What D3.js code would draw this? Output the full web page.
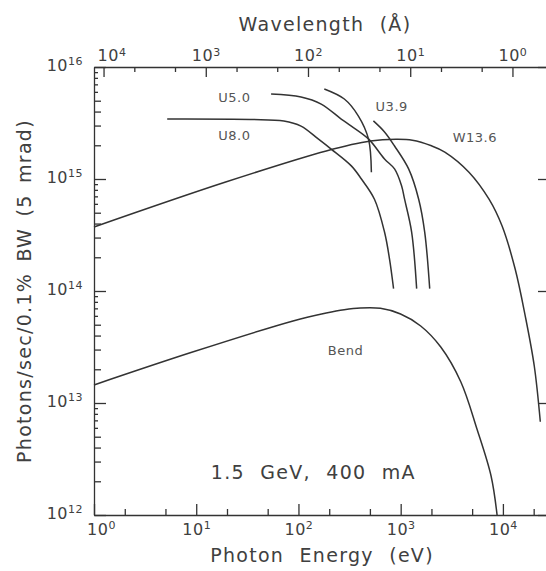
<!DOCTYPE html>
<html><head><meta charset="utf-8">
<script src="https://cdn.jsdelivr.net/npm/d3@7"></script>
<style>
body{margin:0;background:#fff}
svg{display:block}
text{font-family:"DejaVu Sans",sans-serif;fill:#404040}
.axis path,.axis line{stroke:#333;stroke-width:1.3px}
</style>
</head><body>
<svg id="c" width="546" height="571"></svg>
<script>
// ---------- data ----------
const HC = 12398; // eV·Å
const energyDomain = [1, 27000];
const fluxDomain = [1e12, 1e16];
const energyMajor = [1, 10, 100, 1000, 10000];
const energyMinor = [2, 5, 20, 50, 200, 500, 2000, 5000, 20000];
const lambdaMajor = [10000, 1000, 100, 10, 1];
const lambdaMinor = [5000, 2000, 500, 200, 50, 20, 5, 2];
const fluxMajor = [1e12, 1e13, 1e14, 1e15, 1e16];

const bendE = [1, 9.2, 88.5, 187, 280, 403, 634, 998, 1570, 2467, 3880, 5575, 7660, 8770];
const bendF = [1.45e13, 2.85e13, 5.4e13, 6.35e13, 6.8e13, 7.05e13, 7.0e13, 6.23e13, 4.87e13, 3.16e13, 1.54e13, 5.86e12, 2.23e12, 1.0e12];

const w136E = [1, 19.4, 187, 506, 900, 1300, 2000, 2703, 4656, 7317, 9820, 13180, 16530, 20270, 23230];
const w136F = [3.73e14, 9.4e14, 1.78e15, 2.18e15, 2.26e15, 2.22e15, 1.98e15, 1.74e15, 1.15e15, 6.6e14, 3.8e14, 1.57e14, 6e13, 2.14e13, 6.8e12];

const u80E = [5.2, 34, 72, 106, 156, 209, 329, 413, 554, 695, 778, 852];
const u80F = [3.43e15, 3.4e15, 3.3e15, 2.97e15, 2.28e15, 1.85e15, 1.31e15, 1.0e15, 6.6e14, 3.36e14, 1.93e14, 1.05e14];

const u50E = [54, 106, 167, 262, 329, 484, 695, 871, 1020, 1092, 1280, 1433];
const u50F = [5.74e15, 5.4e15, 4.67e15, 3.43e15, 2.97e15, 2.28e15, 1.51e15, 1.23e15, 8.7e14, 6.6e14, 3.36e14, 1.05e14];

const u39aE = [179, 281, 386, 484, 517];
const u39aF = [6.37e15, 5.18e15, 3.65e15, 2.28e15, 1.15e15];
const u39bE = [541, 695, 871, 1196, 1500, 1718, 1923];
const u39bF = [3.3e15, 2.63e15, 1.97e15, 1.23e15, 6.6e14, 3.36e14, 1.05e14];

const labelText = ["U5.0", "U8.0", "U3.9", "W13.6", "Bend"];
const labelE = [23.6, 23.6, 817, 5310, 289];
const labelF = [5.3e15, 2.47e15, 4.4e15, 2.37e15, 2.97e13];
const noteText = "1.5 GeV, 400 mA";
const noteE = 140, noteF = 2.42e12;

// ---------- layout ----------
const L = 94, R = 547, T = 67, B = 515;
const svg = d3.select("#c");
const x = d3.scaleLog().domain(energyDomain).range([L, R]);
const y = d3.scaleLog().domain(fluxDomain).range([B, T]);
const xl = d3.scaleLog().domain([HC / energyDomain[0], HC / energyDomain[1]]).range([L, R]);

function supLabel(sel, baseSize, supSize) {
  sel.each(function(d) {
    const t = d3.select(this);
    const e = Math.round(Math.log10(d));
    t.text(null);
    t.append("tspan").text("10").style("font-size", baseSize + "px");
    t.append("tspan").text(e).attr("dy", "-0.5em").style("font-size", supSize + "px");
  });
}

// bottom axis
const gB = svg.append("g").attr("class", "axis").attr("transform", `translate(0,${B})`);
gB.call(d3.axisBottom(x).tickValues(energyMajor).tickSizeInner(-11).tickSizeOuter(0).tickPadding(9));
gB.selectAll(".tick text").call(supLabel, 16, 11).attr("dy", "1.05em").attr("dx", (d, i) => i === 0 ? 7 : 0).style("letter-spacing", "0.5px");
svg.append("g").attr("class", "axis").attr("transform", `translate(0,${B})`)
  .call(d3.axisBottom(x).tickValues(energyMinor).tickSizeInner(-6).tickSizeOuter(0).tickFormat(""))
  .select(".domain").remove();

// top axis (wavelength)
const gT = svg.append("g").attr("class", "axis").attr("transform", `translate(0,${T})`);
gT.call(d3.axisTop(xl).tickValues(lambdaMajor).tickSizeInner(-10).tickSizeOuter(0).tickPadding(6));
gT.selectAll(".tick text").call(supLabel, 16, 11).attr("dx", (d, i) => i === 0 ? 8 : 0).style("letter-spacing", "0.5px");
svg.append("g").attr("class", "axis").attr("transform", `translate(0,${T})`)
  .call(d3.axisTop(xl).tickValues(lambdaMinor).tickSizeInner(-5).tickSizeOuter(0).tickFormat(""))
  .select(".domain").remove();

// left axis
const mant = v => Math.round(v / Math.pow(10, Math.floor(Math.log10(v) + 1e-9)));
const fluxMinorA = y.ticks().filter(v => mant(v) >= 2 && mant(v) <= 5);
const fluxMinorB = y.ticks().filter(v => mant(v) >= 6);
const gL = svg.append("g").attr("class", "axis").attr("transform", `translate(${L},0)`);
gL.call(d3.axisLeft(y).tickValues(fluxMajor).tickSizeInner(-12).tickSizeOuter(0).tickPadding(11));
gL.selectAll(".tick text").call(supLabel, 16, 11).style("letter-spacing", "0.5px");
svg.append("g").attr("class", "axis").attr("transform", `translate(${L},0)`)
  .call(d3.axisLeft(y).tickValues(fluxMinorA).tickSizeInner(-7).tickSizeOuter(0).tickFormat(""))
  .select(".domain").remove();
svg.append("g").attr("class", "axis").attr("transform", `translate(${L},0)`)
  .call(d3.axisLeft(y).tickValues(fluxMinorB).tickSizeInner(-4).tickSizeOuter(0).tickFormat(""))
  .select(".domain").remove();

// right axis
svg.append("g").attr("class", "axis").attr("transform", `translate(${R},0)`)
  .call(d3.axisRight(y).tickValues(fluxMajor).tickSizeInner(-9).tickSizeOuter(0).tickFormat(""));

// titles
svg.append("text").attr("x", (L + 546) / 2 + 5).attr("y", 31).attr("text-anchor", "middle")
  .style("font-size", "19px").style("letter-spacing", "1.3px").style("word-spacing", "8px")
  .text("Wavelength (Å)");
svg.append("text").attr("x", (L + 546) / 2 + 2).attr("y", 562).attr("text-anchor", "middle")
  .style("font-size", "19px").style("letter-spacing", "1.3px").style("word-spacing", "8px")
  .text("Photon Energy (eV)");
svg.append("text").attr("transform", `translate(31,${(T + B) / 2}) rotate(-90)`).attr("text-anchor", "middle")
  .style("font-size", "19px").style("letter-spacing", "1.3px").style("word-spacing", "4px")
  .text("Photons/sec/0.1% BW (5 mrad)");

// curves
const line = d3.line().x(d => x(d[0])).y(d => y(d[1])).curve(d3.curveCatmullRom.alpha(0.5));
const series = [[bendE, bendF], [w136E, w136F], [u80E, u80F], [u50E, u50F], [u39aE, u39aF], [u39bE, u39bF]];
svg.append("g").selectAll("path").data(series).join("path")
  .attr("d", s => line(s[0].map((e, i) => [e, s[1][i]])))
  .attr("fill", "none").attr("stroke", "#333").attr("stroke-width", 1.5);

// labels
svg.append("g").selectAll("text").data(labelText).join("text")
  .attr("x", (d, i) => x(labelE[i])).attr("y", (d, i) => y(labelF[i]))
  .attr("text-anchor", "middle").attr("dy", "0.35em")
  .style("font-size", "13px").style("letter-spacing", "0.5px").style("fill", "#555")
  .text(d => d);
svg.append("text").attr("x", x(noteE)).attr("y", y(noteF)).attr("dy", "0.35em").attr("text-anchor", "middle")
  .style("font-size", "19px").style("letter-spacing", "1.3px").style("word-spacing", "8px")
  .text(noteText);
</script>
</body></html>
